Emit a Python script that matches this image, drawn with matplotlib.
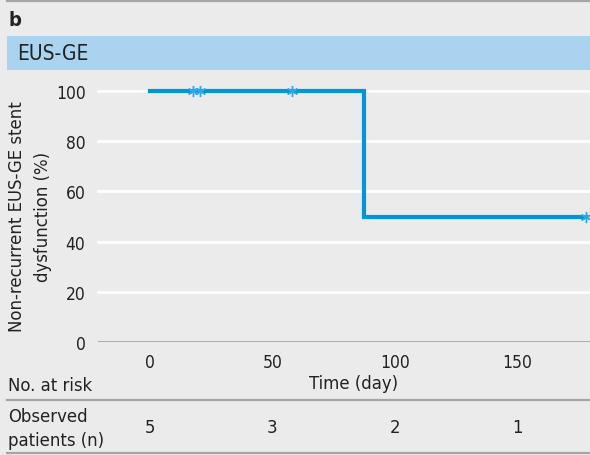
import numpy as np
import matplotlib.pyplot as plt
from matplotlib.lines import Line2D

plt.rcParams['font.family'] = ['DejaVu Sans']
plt.rcParams['font.stretch'] = 'condensed'

# Kaplan-Meier curve
step_t = [0, 87.5, 178]
step_s = [100, 50, 50]
cens_t = [17.5, 20.5, 58, 178]
cens_s = [100, 100, 100, 50]

xticks = [0, 50, 100, 150]
yticks = [0, 20, 40, 60, 80, 100]
at_risk = [5, 3, 2, 1]

W, H = 590, 456
bg = '#eaebea'
blue = '#0096da'
gray = '#a3a5a6'
txt = '#222222'

fig = plt.figure(figsize=(W / 100, H / 100), dpi=100, facecolor=bg)


def fx(x):
    return x / W


def fy(y):
    return 1 - y / H


# header
fig.add_artist(Line2D([fx(7), 1], [fy(2), fy(2)], color=gray, lw=1.6))
fig.text(fx(8), fy(20), 'b', fontsize=14.5, fontweight='bold', va='center', color=txt)
band = plt.Rectangle((fx(7), fy(71)), 1 - fx(7), fy(36.5) - fy(71),
                     transform=fig.transFigure, color='#aad3f0', lw=0)
fig.add_artist(band)
fig.text(fx(17), fy(53.5), 'EUS-GE', fontsize=15, va='center', color=txt)

ax = fig.add_axes([fx(98), fy(343), 1 - fx(98), fy(92) - fy(343)])
ax.set_facecolor(bg)
ax.set_xlim(-21.25, 179.8)
ax.set_ylim(0, 100)
for y in yticks[1:]:
    ax.axhline(y, color='white', lw=2, zorder=1, clip_on=False)
for s in ax.spines.values():
    s.set_visible(False)
ax.axhline(0, color=gray, lw=2, zorder=1)

ax.step(step_t, step_s, where='post', color=blue, lw=3, zorder=3, clip_on=False,
        solid_joinstyle='miter')
ax.plot(cens_t, cens_s, ls='none', marker=(6, 2, 0), ms=8, mew=1,
        color='#2fa8ea', zorder=4, clip_on=False)

ax.set_xticks(xticks)
ax.set_yticks(yticks)
ax.tick_params(length=0, labelsize=12.5, colors=txt)
ax.tick_params(axis='y', pad=9)
ax.tick_params(axis='x', pad=8)

fig.text(fx(30), fy(217), 'Non-recurrent EUS-GE stent\ndysfunction (%)', rotation=90,
         fontsize=13.2, ha='center', va='center', linespacing=1.5, color=txt,
         multialignment='center')

# risk table
fig.text(fx(354), fy(384), 'Time (day)', fontsize=13.2, ha='center', va='center', color=txt)
fig.text(fx(8), fy(386), 'No. at risk', fontsize=13.2, ha='left', va='center', color=txt)
fig.add_artist(Line2D([fx(7), 1], [fy(400.5), fy(400.5)], color=gray, lw=1.6))
fig.text(fx(8), fy(429), 'Observed\npatients (n)', fontsize=13.2, ha='left', va='center',
         linespacing=1.4, color=txt)
for t, n in zip(xticks, at_risk):
    xp = ax.transData.transform((t, 0))[0] / W
    fig.text(xp, fy(428), str(n), fontsize=13.2, ha='center', va='center', color=txt)
fig.add_artist(Line2D([fx(7), 1], [fy(454), fy(454)], color=gray, lw=1.6))

fig.savefig('out.png', dpi=100, facecolor=bg)
